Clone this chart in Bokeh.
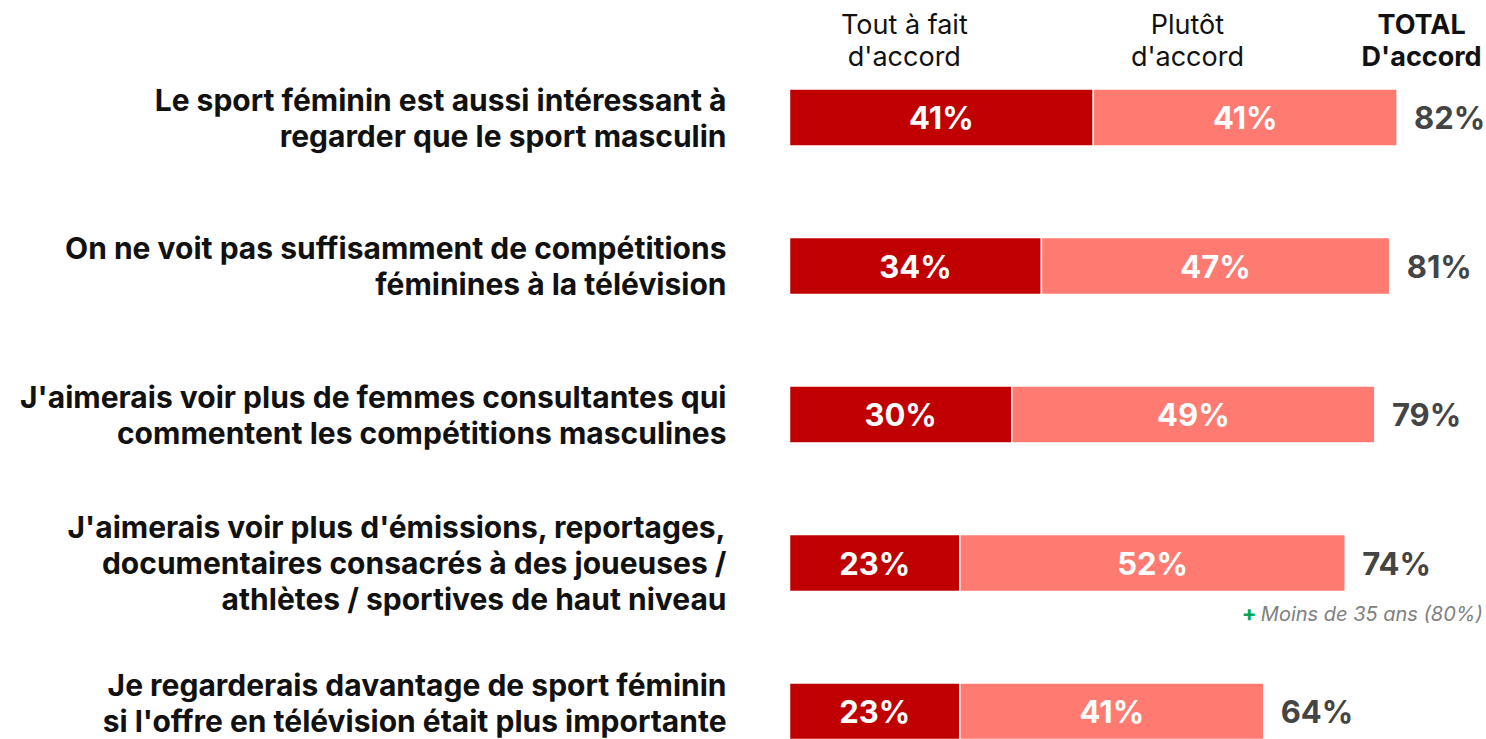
from bokeh.plotting import figure
from bokeh.models import ColumnDataSource, Range1d
from bokeh.core.properties import value
from bokeh.embed import file_html
from bokeh.resources import INLINE

# ---- data ----
statements = [
    "Le sport féminin est aussi intéressant à\nregarder que le sport masculin",
    "On ne voit pas suffisamment de compétitions\nféminines à la télévision",
    "J'aimerais voir plus de femmes consultantes qui\ncommentent les compétitions masculines",
    "J'aimerais voir plus d'émissions, reportages,\ndocumentaires consacrés à des joueuses /\nathlètes / sportives de haut niveau",
    "Je regarderais davantage de sport féminin\nsi l'offre en télévision était plus importante",
]
tout_a_fait = [41, 34, 30, 23, 23]
plutot = [41, 47, 49, 52, 41]
total = [82, 81, 79, 74, 64]
headers = ["Tout à fait\nd'accord", "Plutôt\nd'accord", "TOTAL\nD'accord"]
note_text = "Moins de 35 ans (80%)"
note_row = 3

DARK = "#C00000"
LIGHT = "#FF7B72"
FONT = "Inter"

W, H = 1486, 739
PX_PER = 7.41
X0 = 789  # pixel of value 0
xs = -X0 / PX_PER
xe = (W - X0) / PX_PER
ROW = 148.5
Y0 = 117
ys = -Y0 / ROW
ye = (H - Y0) / ROW

p = figure(width=W, height=H, output_backend="svg", toolbar_location=None,
           x_range=Range1d(xs, xe), y_range=Range1d(ye, ys),
           min_border=0, outline_line_color=None)
p.axis.visible = False
p.grid.visible = False
p.background_fill_color = "white"
p.border_fill_color = "white"

n = len(statements)
ypos = list(range(n))
right2 = [a + b for a, b in zip(tout_a_fait, plutot)]
src = ColumnDataSource(dict(
    y=ypos, a=tout_a_fait, b=plutot, t=total,
    r2=right2,
    zero=[0] * n,
    mid1=[v / 2 for v in tout_a_fait],
    mid2=[a + b / 2 for a, b in zip(tout_a_fait, plutot)],
    la=[f"{v}%" for v in tout_a_fait],
    lb=[f"{v}%" for v in plutot],
    lt=[f"{v}%" for v in total],
))

p.hbar(y="y", left="zero", right="a", height=0.385, source=src,
       fill_color=DARK, line_color="white", line_width=1.5)
p.hbar(y="y", left="a", right="r2", height=0.385, source=src,
       fill_color=LIGHT, line_color="white", line_width=1.5)

p.text(x="mid1", y="y", text="la", source=src, text_color="white",
       text_font=value(FONT), text_font_style="bold", text_font_size="31px",
       text_align="center", text_baseline="middle")
p.text(x="mid2", y="y", text="lb", source=src, text_color="white",
       text_font=value(FONT), text_font_style="bold", text_font_size="31px",
       text_align="center", text_baseline="middle")
p.text(x="r2", y="y", text="lt", source=src, text_color="#444444",
       text_font=value(FONT), text_font_style="bold", text_font_size="31px",
       text_align="left", text_baseline="middle", x_offset=17)

# statement labels, line by line
lx, ly, lt, lo = [], [], [], []
for i, s in enumerate(statements):
    lines = s.split("\n")
    k = len(lines)
    for j, line in enumerate(lines):
        lx.append(0)
        ly.append(i)
        lt.append(line)
        lo.append((j - (k - 1) / 2) * 36 - (9 if i == n - 1 else 0))
p.text(x=lx, y=ly, text=lt, y_offset=lo, x_offset=-63,
       text_color="#111111", text_font=value(FONT), text_font_style="bold",
       text_font_size="30px", text_align="right", text_baseline="middle")

# headers
hx = [15.5, 53.7, 85.3]
for k, h in enumerate(headers):
    lines = h.split("\n")
    for j, line in enumerate(lines):
        p.text(x=[hx[k]], y=[0], text=[line], y_offset=[-93 + j * 32],
               text_color="#111111", text_font=value(FONT),
               text_font_style="bold" if k == 2 else "normal",
               text_font_size="27px", text_align="center", text_baseline="middle")

# note
p.text(x=[total[note_row]], y=[note_row], text=["+"], x_offset=[-96], y_offset=[50],
       text_color="#00A651", text_font=value(FONT), text_font_style="bold",
       text_font_size="22px", text_align="left", text_baseline="middle")
p.text(x=[total[note_row]], y=[note_row], text=[note_text], x_offset=[-77], y_offset=[51],
       text_color="#808080", text_font=value(FONT), text_font_style="italic",
       text_font_size="20px", text_align="left", text_baseline="middle")

open("out.html", "w").write(file_html(p, INLINE))
